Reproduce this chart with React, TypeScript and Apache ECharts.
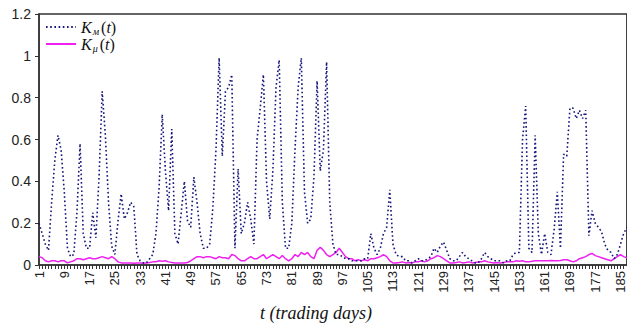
import React, { useEffect, useRef } from 'react';
import * as echarts from 'echarts';

const days: string[] = Array.from({ length: 187 }, (_, i) => String(i + 1));

const kW: number[] = [
  0.20, 0.15, 0.10, 0.07, 0.30, 0.50, 0.62, 0.55, 0.35, 0.08,
  0.04, 0.05, 0.25, 0.58, 0.15, 0.08, 0.08, 0.25, 0.13, 0.42,
  0.83, 0.62, 0.30, 0.09, 0.05, 0.21, 0.34, 0.22, 0.25, 0.30,
  0.28, 0.05, 0.02, 0.01, 0.01, 0.03, 0.05, 0.15, 0.37, 0.72,
  0.45, 0.26, 0.65, 0.15, 0.10, 0.25, 0.40, 0.21, 0.18, 0.42,
  0.30, 0.15, 0.08, 0.08, 0.10, 0.27, 0.55, 0.99, 0.52, 0.83,
  0.85, 0.91, 0.08, 0.46, 0.15, 0.20, 0.30, 0.22, 0.10, 0.60,
  0.75, 0.91, 0.40, 0.22, 0.45, 0.85, 0.98, 0.30, 0.08, 0.08,
  0.20, 0.55, 0.85, 0.99, 0.35, 0.20, 0.22, 0.42, 0.88, 0.45,
  0.55, 0.97, 0.30, 0.10, 0.05, 0.05, 0.04, 0.03, 0.03, 0.02,
  0.02, 0.02, 0.02, 0.03, 0.03, 0.15, 0.08, 0.05, 0.08, 0.15,
  0.18, 0.36, 0.10, 0.05, 0.04, 0.04, 0.02, 0.02, 0.01, 0.02,
  0.03, 0.02, 0.02, 0.03, 0.04, 0.08, 0.06, 0.09, 0.11, 0.07,
  0.03, 0.02, 0.02, 0.04, 0.06, 0.04, 0.03, 0.02, 0.01, 0.01,
  0.03, 0.06, 0.04, 0.03, 0.02, 0.02, 0.02, 0.01, 0.02, 0.02,
  0.05, 0.06, 0.06, 0.60, 0.76, 0.08, 0.06, 0.62, 0.15, 0.05,
  0.15, 0.06, 0.05, 0.17, 0.35, 0.08, 0.53, 0.52, 0.75, 0.75,
  0.70, 0.74, 0.70, 0.74, 0.14, 0.26, 0.20, 0.18, 0.16, 0.10,
  0.07, 0.06, 0.03, 0.05, 0.10, 0.15, 0.18,
];

const kMu: number[] = [
  0.040, 0.035, 0.020, 0.015, 0.020, 0.020, 0.015, 0.020, 0.020, 0.010,
  0.015, 0.020, 0.030, 0.030, 0.025, 0.030, 0.035, 0.030, 0.030, 0.035,
  0.040, 0.035, 0.030, 0.040, 0.030, 0.015, 0.010, 0.010, 0.010, 0.010,
  0.008, 0.010, 0.010, 0.008, 0.010, 0.012, 0.015, 0.015, 0.020, 0.018,
  0.020, 0.015, 0.012, 0.010, 0.010, 0.010, 0.010, 0.012, 0.020, 0.030,
  0.040, 0.040, 0.035, 0.040, 0.040, 0.035, 0.030, 0.040, 0.035, 0.035,
  0.030, 0.050, 0.045, 0.030, 0.020, 0.020, 0.030, 0.040, 0.030, 0.030,
  0.040, 0.050, 0.030, 0.040, 0.050, 0.040, 0.030, 0.045, 0.030, 0.020,
  0.030, 0.050, 0.040, 0.060, 0.050, 0.060, 0.040, 0.030, 0.070, 0.085,
  0.070, 0.050, 0.040, 0.050, 0.060, 0.080, 0.060, 0.040, 0.030, 0.030,
  0.020, 0.025, 0.020, 0.025, 0.020, 0.030, 0.030, 0.035, 0.040, 0.050,
  0.040, 0.020, 0.010, 0.010, 0.012, 0.015, 0.010, 0.012, 0.010, 0.015,
  0.015, 0.020, 0.015, 0.020, 0.030, 0.035, 0.045, 0.040, 0.030, 0.020,
  0.010, 0.010, 0.012, 0.015, 0.010, 0.012, 0.015, 0.010, 0.012, 0.015,
  0.015, 0.020, 0.015, 0.012, 0.010, 0.012, 0.010, 0.012, 0.015, 0.015,
  0.015, 0.020, 0.018, 0.020, 0.015, 0.015, 0.018, 0.020, 0.020, 0.020,
  0.020, 0.020, 0.022, 0.020, 0.020, 0.022, 0.025, 0.025, 0.020, 0.015,
  0.020, 0.030, 0.035, 0.040, 0.050, 0.055, 0.045, 0.040, 0.035, 0.030,
  0.025, 0.020, 0.030, 0.040, 0.050, 0.040, 0.035,
];

const seriesNames = ['Kм(t)', 'Kμ(t)'];
const legendRich: Record<string, string> = {
  'Kм(t)': '{k|K}{s|м}{p|(}{k|t}{p|)}',
  'Kμ(t)': '{k|K}{s|μ}{p|(}{k|t}{p|)}',
};
const xTitle = 't (trading days)';

export default function App() {
  const ref = useRef<HTMLDivElement>(null);
  useEffect(() => {
    if (!ref.current) return;
    const chart = echarts.init(ref.current, undefined, { renderer: 'svg' });
    const axisColor = '#333';
    chart.setOption({
      animation: false,
      backgroundColor: '#fff',
      grid: {
        left: 39, right: -1, top: 14, bottom: 61,
        show: true, borderColor: axisColor, borderWidth: 1.5,
      },
      legend: {
        orient: 'vertical', left: 40, top: 14, itemGap: 0,
        itemWidth: 30, itemHeight: 16,
        data: seriesNames,
        itemStyle: { opacity: 0 },
        formatter: (name: string) => legendRich[name] || name,
        textStyle: {
          color: '#111',
          rich: {
            k: { fontFamily: 'Liberation Serif', fontStyle: 'italic', fontSize: 16, lineHeight: 18 },
            p: { fontFamily: 'Liberation Serif', fontSize: 16, lineHeight: 18 },
            s: { fontFamily: 'Liberation Serif', fontStyle: 'italic', fontSize: 10, lineHeight: 10, verticalAlign: 'bottom', padding: [0, 2, 0, 1] },
          },
        },
      },
      graphic: [
        {
          type: 'text', x: 316, y: 313,
          style: {
            text: xTitle, fill: '#111',
            font: 'italic 18px "Liberation Serif"',
            textAlign: 'center', textVerticalAlign: 'middle',
          },
        },
      ],
      xAxis: {
        type: 'category', data: days, boundaryGap: false,
        axisLine: { lineStyle: { color: axisColor, width: 1.5 } },
        axisTick: { interval: 0, length: 4, lineStyle: { color: axisColor } },
        axisLabel: {
          interval: 7, rotate: 90, margin: 6,
          fontFamily: 'Liberation Sans', fontSize: 13, color: '#222',
        },
        splitLine: { show: false },
      },
      yAxis: {
        type: 'value', min: 0, max: 1.2, interval: 0.2,
        axisLine: { show: true, lineStyle: { color: axisColor, width: 1.5 } },
        axisTick: { show: true, length: 4, lineStyle: { color: axisColor } },
        axisLabel: { fontFamily: 'Liberation Sans', fontSize: 14, color: '#222', margin: 8 },
        splitLine: { show: false },
      },
      series: [
        {
          name: seriesNames[0], type: 'line', data: kW, symbol: 'none',
          lineStyle: { color: '#14147a', width: 1.6, type: [1.6, 2.6] },
          itemStyle: { color: '#14147a' },
          z: 3,
        },
        {
          name: seriesNames[1], type: 'line', data: kMu, symbol: 'none',
          lineStyle: { color: '#ee22ee', width: 1.5, type: 'solid' },
          itemStyle: { color: '#ee22ee' },
          z: 2,
        },
      ],
    });
    return () => chart.dispose();
  }, []);
  return <div ref={ref} style={{ width: 627, height: 326, position: 'absolute', left: 0, top: 0 }} />;
}
